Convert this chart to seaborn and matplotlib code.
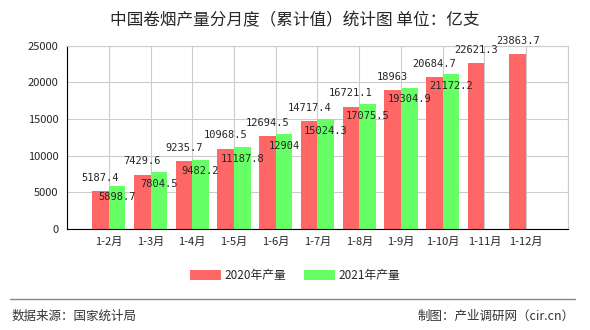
import numpy as np
import pandas as pd
import matplotlib
matplotlib.use("Agg")
import matplotlib.pyplot as plt
import seaborn as sns

categories = ["1-2月", "1-3月", "1-4月", "1-5月", "1-6月", "1-7月", "1-8月", "1-9月", "1-10月", "1-11月", "1-12月"]
values_2020 = [5187.4, 7429.6, 9235.7, 10968.5, 12694.5, 14717.4, 16721.1, 18963, 20684.7, 22621.3, 23863.7]
values_2021 = [5898.7, 7804.5, 9482.2, 11187.8, 12904, 15024.3, 17075.5, 19304.9, 21172.2, np.nan, np.nan]
series_names = ["2020年产量", "2021年产量"]
label_2020 = ["5187.4", "7429.6", "9235.7", "10968.5", "12694.5", "14717.4", "16721.1", "18963", "20684.7", "22621.3", "23863.7"]
label_2021 = ["5898.7", "7804.5", "9482.2", "11187.8", "12904", "15024.3", "17075.5", "19304.9", "21172.2", "", ""]
y_ticks = [0, 5000, 10000, 15000, 20000, 25000]

sns.set_theme(style="white")
plt.rcParams['font.family'] = ['Noto Sans CJK SC', 'DejaVu Sans']

df = pd.DataFrame({
    "cat": categories * 2,
    "val": values_2020 + values_2021,
    "series": [series_names[0]] * len(categories) + [series_names[1]] * len(categories),
})
df = df.dropna()

fig = plt.figure(figsize=(5.9, 3.3), dpi=100)
ax = fig.add_axes([0.1136, 0.306, 0.849, 0.555])
palette = {series_names[0]: "#FF6666", series_names[1]: "#66FF66"}
sns.barplot(data=df, x="cat", y="val", hue="series", order=categories, hue_order=series_names,
            palette=palette, width=0.8, saturation=1, ax=ax, legend=True, errorbar=None,
            linewidth=0, edgecolor="none")

ax.set_xlim(-1, 11)
ax.set_ylim(0, 25000)
ax.set_xticks(range(-1, 12))
ax.set_xticklabels([""] + categories + [""], fontsize=8)
ax.set_yticks(y_ticks)
ax.set_yticklabels([str(v) for v in y_ticks], fontsize=8)
ax.set_xlabel("")
ax.set_ylabel("")
ax.grid(True, color="#cccccc", linewidth=0.8)
ax.set_axisbelow(True)
for s in ["top", "right"]:
    ax.spines[s].set_color("#cccccc")
    ax.spines[s].set_linewidth(0.8)
for s in ["left", "bottom"]:
    ax.spines[s].set_color("black")
    ax.spines[s].set_linewidth(0.8)
ax.tick_params(axis="both", direction="out", length=4, width=0.8, color="black", pad=2)

# value labels
conts = ax.containers
ax.bar_label(conts[0], labels=label_2020, padding=6, fontsize=7.5, family="DejaVu Sans Mono")
ax.bar_label(conts[1], labels=[l for l in label_2021 if l], padding=-12, fontsize=7.5,
             family="DejaVu Sans Mono")

leg = ax.legend(loc="center", bbox_to_anchor=(0.5, 0.164), bbox_transform=fig.transFigure,
                ncol=2, frameon=False, fontsize=8.5, handlelength=2.6, handleheight=0.9,
                columnspacing=1.5, handletextpad=0.3)

fig.text(0.5, 0.936, "中国卷烟产量分月度（累计值）统计图 单位：亿支", ha="center", va="center", fontsize=12)
fig.add_artist(plt.Line2D([10/590, 575/590], [0.094, 0.094], color="#888888", linewidth=1))
fig.text(12/590, 0.042, "数据来源：国家统计局", ha="left", va="center", fontsize=9, color="#333333")
fig.text(575/590, 0.042, "制图：产业调研网（cir.cn）", ha="right", va="center", fontsize=9, color="#333333")

fig.savefig("out.png", dpi=100)
